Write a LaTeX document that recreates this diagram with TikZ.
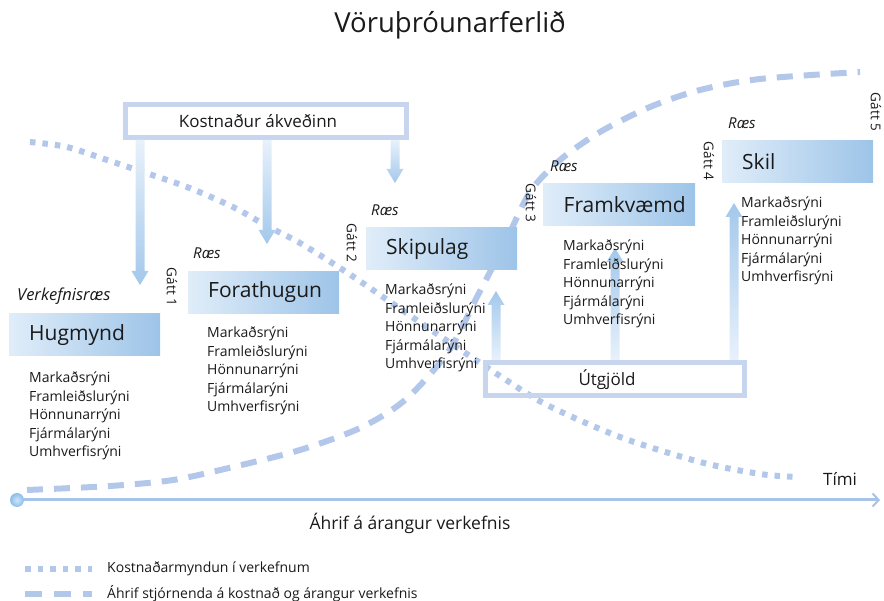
\documentclass[tikz,border=0pt]{standalone}
\usepackage{fontspec}
\setmainfont{Open Sans}
\usetikzlibrary{calc,arrows.meta}

\definecolor{boxlight}{HTML}{E0EDF9}
\definecolor{boxdark}{HTML}{9DC4E8}
\definecolor{framecol}{HTML}{C7D5EF}
\definecolor{curvecol}{HTML}{B3C7EA}
\definecolor{axiscol}{HTML}{A8C3E8}
\definecolor{arrlight}{HTML}{E8F1FB}
\definecolor{arrdark}{HTML}{A3C8EB}
\definecolor{ballin}{HTML}{CFE4F8}
\definecolor{ballout}{HTML}{8CBDEA}
\definecolor{inkcol}{HTML}{1A1A1A}

% wide shaded arrow from #1 to the tip #2; #3 = offset of the head base, #4 = shading
\newcommand\fatarrow[4]{%
  \shade[#4] let \p1=(#1), \p2=(#2) in
    (\x1-4.5pt,\y1) -- (\x1-4.5pt,\y2+#3) -- (\x1-8.5pt,\y2+#3) -- (\x2,\y2)
    -- (\x1+8.5pt,\y2+#3) -- (\x1+4.5pt,\y2+#3) -- (\x1+4.5pt,\y1) -- cycle;}

% five review lines under a phase box
\newcommand\reviews[3]{%
  \foreach \t [count=\i from 0] in {Markaðsrýni,Framleiðslurýni,Hönnunarrýni,Fjármálarýni,Umhverfisrýni}
    \node[listtext] (#1-\i) at (#2,#3+\i*18.5+5) {\t};}

\begin{document}
\begin{tikzpicture}[x=1pt,y=-1pt,
  every node/.style={text=inkcol},
  phase/.style={left color=boxlight, right color=boxdark, anchor=west,
    minimum width=151pt, minimum height=42pt, inner xsep=20pt, text width=111pt,
    align=left, font=\fontsize{21}{24}\selectfont},
  listtext/.style={anchor=base west, inner sep=0pt, font=\fontsize{14}{17}\selectfont},
  startlabel/.style={font=\fontsize{15}{18}\itshape, inner sep=0pt},
  gate/.style={rotate=-90, font=\fontsize{13.5}{16}\selectfont, inner sep=0pt},
  framebox/.style={draw=framecol, line width=5pt, inner sep=0pt},
  boxtext/.style={font=\fontsize{17}{20}\selectfont, inner sep=0pt},
  dashcurve/.style={draw=curvecol, line width=6pt, dash pattern=on 16pt off 11pt},
  dotcurve/.style={draw=curvecol, line width=6pt, dash pattern=on 5.5pt off 7pt},
  downshade/.style={top color=arrlight, bottom color=arrdark},
  upshade/.style={top color=arrdark, bottom color=arrlight},
  legendtext/.style={anchor=west, font=\fontsize{14}{16}\selectfont, inner sep=0pt},
]
\useasboundingbox (0,0) rectangle (884,601);

% title
\node[font=\fontsize{27.5}{32}\selectfont] (title) at (450,25) {Vöruþróunarferlið};

% cost formation (dotted) and management influence (dashed)
\draw[dotcurve] plot[smooth] coordinates {(30,142) (67,147) (110,161) (140,171) (187,187)
  (233,207) (267,226) (300,243) (340,268) (367,286) (440,336) (500,376) (547,405)
  (620,437) (700,462) (760,474) (797,477)};
\draw[dashcurve] plot[smooth] coordinates {(27,490) (110,486) (173,480) (233,467) (300,450)
  (360,428) (405,400) (448,352) (478,295) (505,243) (530,192) (560,160) (600,132)
  (650,107) (700,90) (760,79) (860,72)};

% cost-decided frame with its arrows
\node[framebox, minimum width=281pt, minimum height=33pt] (cost) at (266,121) {};
\node[boxtext] (costtext) at (258,121) {Kostnaður ákveðinn};
\coordinate (d1) at (140,285);
\coordinate (d2) at (267,244);
\coordinate (d3) at (395,183);
\fatarrow{d1 |- cost.south}{d1}{14pt}{downshade}
\fatarrow{d2 |- cost.south}{d2}{14pt}{downshade}
\fatarrow{d3 |- cost.south}{d3}{14pt}{downshade}

% expenditure frame with its arrows
\node[framebox, minimum width=259pt, minimum height=33pt] (utg) at (615,379) {};
\node[boxtext] (utgtext) at (607,380) {Útgjöld};
\coordinate (u1) at (496,291);
\coordinate (u2) at (615,248);
\coordinate (u3) at (734,203);
\fatarrow{u1 |- utg.north}{u1}{-14pt}{upshade}
\fatarrow{u2 |- utg.north}{u2}{-14pt}{upshade}
\fatarrow{u3 |- utg.north}{u3}{-14pt}{upshade}

% phases
\node[phase] (hug)  at (9,335)    {Hugmynd};
\node[phase] (fora) at (188,292.5) {Forathugun};
\node[phase] (skip) at (366,249)  {Skipulag};
\node[phase, minimum width=152pt] (fram) at (543,205) {Framkvæmd};
\node[phase] (skil) at (722,161.5) {Skil};

% start labels
\node[startlabel, anchor=west, font=\fontsize{16.5}{19}\itshape] (s0) at (17,296) {Verkefnisræs};
\node[startlabel, anchor=west] (s1) at (193,253) {Ræs};
\node[startlabel, anchor=west] (s2) at (371,210) {Ræs};
\node[startlabel, anchor=west] (s3) at (550,166) {Ræs};
\node[startlabel, anchor=west] (s4) at (728,123) {Ræs};

% gates
\node[gate] (g1) at (172,287) {Gátt 1};
\node[gate] (g2) at (352,243) {Gátt 2};
\node[gate] (g3) at (531,203) {Gátt 3};
\node[gate] (g4) at (709,161) {Gátt 4};
\node[gate] (g5) at (876,112) {Gátt 5};

% review lists
\reviews{rh}{29}{378}
\reviews{rf}{207}{333}
\reviews{rs}{385}{290}
\reviews{rk}{563}{246}
\reviews{rl}{741}{203}

% time axis
\node[circle, minimum size=14pt, inner sep=0pt, inner color=ballin, outer color=ballout] (t0) at (17,500) {};
\coordinate (tend) at (880,500);
\draw[axiscol, line width=3pt, -{Straight Barb[length=6pt,width=13pt,line width=2pt]}] (t0) -- (tend);
\node[boxtext] (tími) at (840,479) {Tími};
\node[font=\fontsize{17.5}{20}\selectfont] (ahrif) at (410,523) {Áhrif á árangur verkefnis};

% legend
\coordinate (l1a) at (25,569); \coordinate (l1b) at (92,569);
\coordinate (l2a) at (25,594); \coordinate (l2b) at (92,594);
\draw[dotcurve] (l1a) -- (l1b);
\draw[dashcurve, dash pattern=on 17pt off 12pt] (l2a) -- (l2b);
\node[legendtext] (leg1) at (107,569) {Kostnaðarmyndun í verkefnum};
\node[legendtext] (leg2) at (107,594) {Áhrif stjórnenda á kostnað og árangur verkefnis};
\end{tikzpicture}
\end{document}
